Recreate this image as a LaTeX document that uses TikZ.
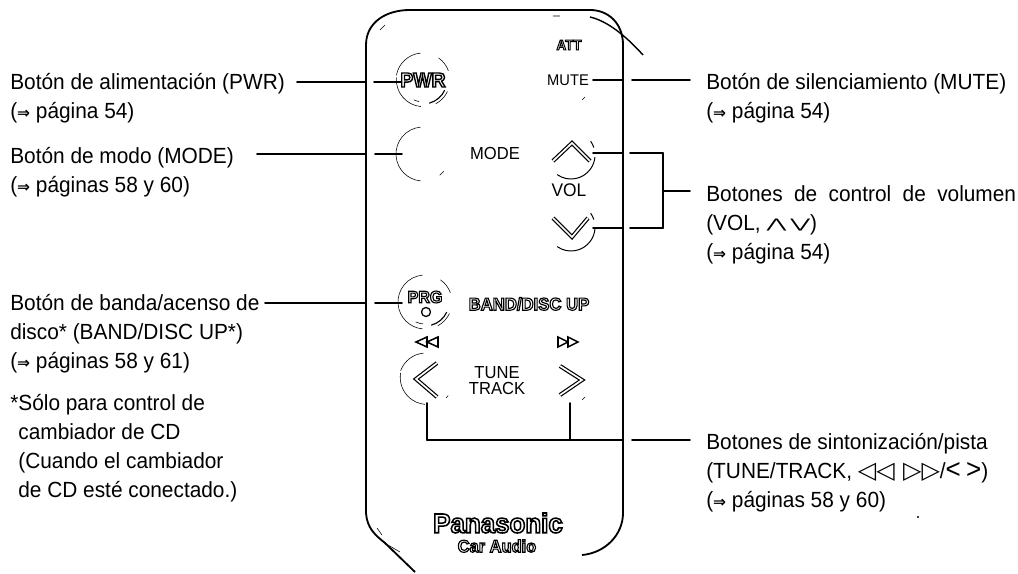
\documentclass[tikz,border=0pt]{standalone}
\usepackage{fontspec}
\usepackage{graphicx}
\usepackage{tkz-euclide}
\setmainfont[FakeStretch=0.95]{Liberation Sans}
\newfontfamily\SymFont{DejaVu Sans}
\newcommand{\OutTxt}[2][0.7]{\special{pdf:code q 2 Tr #1 w 0 0 0 RG 1 1 1 rg}{\bfseries #2}\special{pdf:code Q}}
\newcommand{\PageArrow}{{\SymFont\bfseries\fontsize{11}{11}\selectfont ⇒}}
\tikzset{
  lab/.style={anchor=north west,align=left,inner sep=0pt,font=\fontsize{15.6}{20.7}\selectfont},
  keylab/.style={inner sep=0pt,font=\fontsize{12.4}{11.4}\selectfont,align=center},
  chevron/.style={line width=0.85pt,double=white,double distance=1.2pt,line join=miter},
  fineline/.style={line width=0.4pt},
  bodyline/.style={line width=1.3pt}
}

\begin{document}
\begin{tikzpicture}[x=.025cm,y=.025cm]
\tkzSetUpLine[line width=1.3pt,color=black]
\useasboundingbox (0,0) rectangle (1018,573);

\tkzDefPoints{297/491/PWRa,366/491/PWRb,374/491/PWRc,402/491/PWRd}
\tkzDefPoints{257/419/MODa,366/419/MODb,375/419/MODc,402/419/MODd}
\tkzDefPoints{265/270/PRGa,366/270/PRGb,375/270/PRGc,402/270/PRGd}
\tkzDefPoints{593/493/MUTa,623/493/MUTb,632/493/MUTc,690/493/MUTd}
\tkzDefPoints{593/420/VUa,623/420/VUb,630/420/VUc,663/420/VUd}
\tkzDefPoints{593/345/VDa,623/345/VDb,630/345/VDc,663/345/VDd}
\tkzDefPoints{663/382/VOLa,690/382/VOLb}
\tkzDefPoints{427/170/TNa,427/133/TNb,570/170/TNc,570/133/TNd,623/133/TNe,632/133/TNf,690/133/TNg}
\tkzDefPoints{423/493/PWRo,423/419/MODo,425/271/PRGo,426/193/TNo,571/418/VUo,571/346/VDo}

% remote body
\draw[bodyline] (366,60) -- (366,528) .. controls (366,550) and (385,563) .. (410,563)
  -- (590,563) .. controls (608,563) and (623,550) .. (623,528) -- (623,60)
  .. controls (623,38) and (605,20) .. (582,18);
\draw[bodyline] (366,60) .. controls (367,45) and (375,38) .. (385,30) -- (415,1);
\draw[line width=1pt] (590,556) .. controls (607,552) and (625,538) .. (643,518);
\draw[fineline] (380,543) -- (385,548) (553,557) -- (560,557) (585,476) -- (582,473)
  (585,176) -- (582,173) (377,45) -- (382,38) (388,28) -- (400,21);
\fill (918,56) circle (1.2);

% leaders
\tkzDrawSegments(PWRa,PWRb PWRc,PWRd MODa,MODb MODc,MODd PRGa,PRGb PRGc,PRGd)
\tkzDrawSegments(MUTa,MUTb MUTc,MUTd VUa,VUb VUc,VUd VDa,VDb VDc,VDd VUd,VDd VOLa,VOLb)
\tkzDrawSegments(TNa,TNb TNc,TNd TNb,TNe TNf,TNg)

% button rims
\draw[fineline] (PWRo) ++(95:27) arc (95:170:27) ++(0,-2) arc (175:265:27);
\draw[fineline] (PWRo) ++(55:27) arc (55:20:27) (PWRo) ++(-25:27) arc (-25:-62:27);
\draw[fineline] (PWRo) ++(-115:22) arc (-115:-100:22);
\draw[line width=.8pt] (PWRo) ++(-75:24) arc (-75:-25:24);
\draw[fineline] (MODo) ++(95:27) arc (95:265:27) (MODo) ++(-40:27) arc (-40:-52:27);
\draw[fineline] (PRGo) ++(95:27) arc (95:265:27) (PRGo) ++(55:27) arc (55:20:27) (PRGo) ++(-25:27) arc (-25:-62:27);
\draw[fineline] (PRGo) ++(-115:22) arc (-115:-95:22);
\draw[line width=.8pt] (PRGo) ++(-75:24) arc (-75:-25:24);
\draw[fineline] (TNo) ++(95:27) arc (95:160:27) ++(0,-2) arc (170:265:27);
\draw[fineline] (TNo) ++(-35:27) arc (-35:-42:27);
\draw[line width=.7pt] (VUo) ++(-125:24) arc (-125:-5:24) (VUo) ++(35:24) arc (35:18:24);
\draw[line width=.7pt] (VDo) ++(-125:24) arc (-125:-5:24) (VDo) ++(35:24) arc (35:18:24);

% keys
\draw[chevron] (553,412) -- (572,430) -- (590,412);
\draw[chevron] (553,355) -- (572,336) -- (588,355);
\draw[chevron] (437,210) -- (416,194) -- (437,176);
\draw[chevron] (560,207) -- (582,193) -- (560,178);
\draw[line width=.9pt,fill=white] (426,261) circle (4.5);
\draw[line width=1.1pt,fill=white] (427,236) -- (416,231) -- (427,226) -- cycle;
\draw[line width=1.1pt,fill=white] (438,236) -- (427,231) -- (438,226) -- cycle;
\draw[line width=1.1pt,fill=white] (558,236) -- (568,231) -- (558,226) -- cycle;
\draw[line width=1.1pt,fill=white] (568,236) -- (578,231) -- (568,226) -- cycle;

\node[keylab] (PwrKey) at (423,493) {\OutTxt[1]{\fontsize{14.5}{14.5}\selectfont PWR}};
\node[keylab] (AttKey) at (569,528) {\OutTxt{\fontsize{10}{10}\selectfont ATT}};
\node[keylab,font=\fontsize{11}{11}\selectfont] (MuteKey) at (568,493) {MUTE};
\node[keylab] (ModeKey) at (495,419) {MODE};
\node[keylab,font=\fontsize{13}{13}\selectfont] (VolKey) at (569,383) {VOL};
\node[keylab] (PrgKey) at (425,276) {\OutTxt[.8]{\fontsize{12}{12}\selectfont PRG}};
\node[keylab] (BandKey) at (529,269) {\OutTxt[.8]{\fontsize{12.5}{12.5}\selectfont BAND/DISC UP}};
\node[keylab] (TuneKey) at (497,192) {TUNE\\TRACK};
\node[keylab] (PanaKey) at (498,50) {\OutTxt[1.1]{\fontsize{19.4}{19.4}\selectfont Panasonic}};
\node[keylab] (CarKey) at (497,27) {\OutTxt[.8]{\fontsize{12.3}{12.3}\selectfont Car Audio}};

% labels
\node[lab] (PwrLab) at (10,500) {Botón de alimentación (PWR)\\(\PageArrow{} página 54)};
\node[lab] (ModeLab) at (10,426) {Botón de modo (MODE)\\(\PageArrow{} páginas 58 y 60)};
\node[lab] (BandLab) at (10,279) {Botón de banda/acenso de\\disco* (BAND/DISC UP*)\\(\PageArrow{} páginas 58 y 61)};
\node[lab] (NoteLab) at (10,179) {*Sólo para control de\\\phantom{*}cambiador de CD\\\phantom{*}(Cuando el cambiador\\\phantom{*}de CD esté conectado.)};
\node[lab] (MuteLab) at (706,500) {Botón de silenciamiento (MUTE)\\(\PageArrow{} página 54)};
\node[lab] (VolLab) at (706,388) {{\spaceskip=.52em Botones de control de volumen}\\(VOL, {\SymFont\raisebox{1pt}{\scalebox{1.1}[.6]{⋀\,⋁}}})\\(\PageArrow{} página 54)};
\node[lab] (TuneLab) at (706,140) {Botones de sintonización/pista\\(TUNE/TRACK, {\SymFont\bfseries\fontsize{17}{17}\selectfont ◁◁\hspace{6pt}▷▷}/\scalebox{1.25}{<\hspace{3pt}>})\\(\PageArrow{} páginas 58 y 60)};
\end{tikzpicture}
\end{document}
